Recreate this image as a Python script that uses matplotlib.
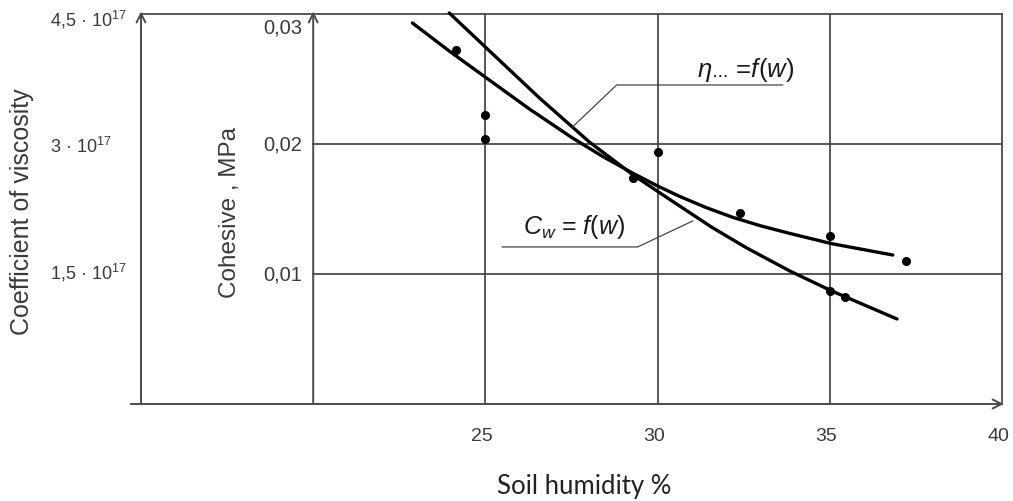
import matplotlib
matplotlib.use("Agg")
import matplotlib.pyplot as plt

plt.rcParams['font.family'] = ['Liberation Sans', 'DejaVu Sans']
plt.rcParams['mathtext.fontset'] = 'custom'
plt.rcParams['mathtext.rm'] = 'Liberation Sans'
plt.rcParams['mathtext.it'] = 'Liberation Sans:italic'

# soil humidity (%) vs cohesive (MPa)
curve_a_x = [22.88, 23.95, 25.03, 26.28, 27.53, 28.40, 29.27, 30.00, 30.64, 31.40, 32.18, 33.00, 33.84, 35.06, 36.83]
curve_a_y = [0.02931, 0.02715, 0.02508, 0.02269, 0.02046, 0.01905, 0.01777, 0.01677, 0.01597, 0.01512, 0.01436, 0.01370, 0.01312, 0.01233, 0.01146]

curve_b_x = [23.95, 25.03, 26.57, 28.02, 29.33, 30.64, 31.60, 32.59, 33.84, 35.06, 36.95]
curve_b_y = [0.03008, 0.02738, 0.02354, 0.02015, 0.01754, 0.01523, 0.01355, 0.01200, 0.01023, 0.00869, 0.00654]

points_x = [24.15, 25.0, 25.0, 30.0, 29.3, 32.4, 35.0, 37.2, 35.0, 35.45]
points_y = [0.0272, 0.0222, 0.0204, 0.0194, 0.0174, 0.0147, 0.0129, 0.0110, 0.0087, 0.0082]

x_ticks = [25, 30, 35, 40]
coh_ticks = [0.01, 0.02, 0.03]
coh_labels = ['0,01', '0,02', '0,03']
visc_labels = [r'1,5 · 10$^{17}$', r'3 · 10$^{17}$', r'4,5 · 10$^{17}$']

line_col = '#4a4a4a'
text_col = '#3a3a3a'

fig = plt.figure(figsize=(10.13, 5.02), dpi=100)
ax = fig.add_axes([141 / 1013, 1 - 405 / 502, (1002 - 141) / 1013, 390 / 502])
ax.set_xlim(15, 40)
ax.set_ylim(0, 0.03)
ax.axis('off')

# frame and grid
ax.plot([15, 40], [0.03, 0.03], color=line_col, lw=1.3, clip_on=False)
ax.plot([40, 40], [0, 0.03], color=line_col, lw=1.3, clip_on=False)
for xv in x_ticks[:-1]:
    ax.plot([xv, xv], [0, 0.03], color=line_col, lw=1.3, clip_on=False)
for yv in coh_ticks[:-1]:
    ax.plot([20, 40], [yv, yv], color=line_col, lw=1.3, clip_on=False)

# axes with open arrows
arrow = dict(arrowstyle='->', lw=1.4, color=line_col, mutation_scale=16, shrinkA=0, shrinkB=0)
ax.annotate('', xy=(15, 0.0302), xytext=(15, 0), arrowprops=arrow, annotation_clip=False)
ax.annotate('', xy=(20, 0.0302), xytext=(20, 0), arrowprops=arrow, annotation_clip=False)
ax.annotate('', xy=(40.05, 0), xytext=(14.7, 0), arrowprops=arrow, annotation_clip=False)

# curves and measured points
ax.plot(curve_a_x, curve_a_y, color='black', lw=2.4, solid_capstyle='round', clip_on=False)
ax.plot(curve_b_x, curve_b_y, color='black', lw=2.4, solid_capstyle='round', clip_on=False)
ax.plot(points_x, points_y, 'o', color='black', ms=5.5, clip_on=False)

# tick labels
for xv in x_ticks:
    ax.text(xv - 0.1, -0.00246, str(xv), ha='center', va='center', fontsize=14, color=text_col)
coh_pos = [0.0100, 0.0200, 0.0290]
for yv, lab in zip(coh_pos, coh_labels):
    ax.text(19.68, yv, lab, ha='right', va='center', fontsize=14.5, color=text_col)
visc_pos = [0.01015, 0.01985, 0.02962]
for yv, lab in zip(visc_pos, visc_labels):
    ax.text(12.35, yv, lab, ha='left', va='center', fontsize=13, color=text_col)

fig.text(22 / 1013, 1 - 212 / 502, 'Coefficient of viscosity', rotation=90,
         ha='center', va='center', fontsize=18, color=text_col)
fig.text(230 / 1013, 1 - 212 / 502, 'Cohesive , MPa', rotation=90,
         ha='center', va='center', fontsize=17.5, color=text_col)
fig.text(584 / 1013, 1 - 487 / 502, 'Soil humidity %', ha='center', va='center',
         fontsize=18.5, color='#222222', family=['Lato', 'DejaVu Sans'])

# curve labels with leader lines
ax.text(31.13, 0.02577, r'$\eta_{\cdots}$ =$f(w)$', ha='left', va='center',
        fontsize=18.5, color='#1a1a1a')
ax.plot([33.63, 28.81, 27.53], [0.02454, 0.02454, 0.02131], color='#444444', lw=0.9)
ax.text(26.08, 0.01369, r'$C_w$ = $f(w)$', ha='left', va='center',
        fontsize=18, color='#1a1a1a')
ax.plot([25.49, 29.42, 31.02], [0.01208, 0.01208, 0.01408], color='#444444', lw=0.9)

fig.savefig('out.png', dpi=100, facecolor='white')
